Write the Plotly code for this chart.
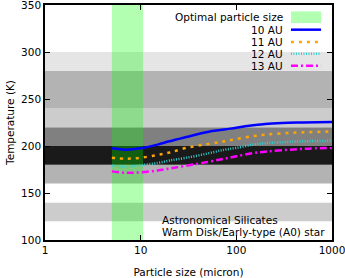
import plotly.graph_objects as go
import math

sizes = [5, 7, 10, 15, 20, 30, 50, 75, 100, 150, 200, 300, 500, 1000]
t10 = [197.5, 196, 197.5, 201.5, 205, 209.5, 215, 217.5, 219.5, 222, 223.5, 224.5, 225, 225.5]
t11 = [187.5, 186.5, 187.5, 190.5, 193, 198, 202, 205, 207.5, 210.5, 212, 213.5, 214.5, 215.5]
t12 = [179, 178, 179.5, 182, 184.5, 187.5, 192, 196, 198, 201.5, 203, 204, 205, 205.5]
t13 = [173, 171.5, 172, 174, 176, 179, 183, 186.5, 189, 192.5, 194, 195.5, 197, 198]

band_lo = [100, 120, 140, 160, 180, 200, 220, 240, 280]
band_hi = [120, 140, 160, 180, 200, 220, 240, 280, 300]
band_col = ["#ffffff", "#cccccc", "#ffffff", "#b3b3b3", "#1a1a1a", "#808080", "#cccccc", "#b3b3b3", "#e5e5e5"]

optimal_lo, optimal_hi = 5, 10.6

series = [
    ("10 AU", t10, dict(color="#0000ff", width=2.5, dash="solid")),
    ("11 AU", t11, dict(color="#ffa500", width=2.5, dash="3px,5px")),
    ("12 AU", t12, dict(color="#33cccc", width=2.5, dash="1px,1.5px")),
    ("13 AU", t13, dict(color="#ff00ff", width=2.5, dash="7px,3px,2px,3px")),
]

FONT = "DejaVu Sans"
FS = 10.5
fig = go.Figure()
shapes = []
for lo, hi, c in zip(band_lo, band_hi, band_col):
    shapes.append(dict(type="rect", xref="paper", yref="y", x0=0, x1=1, y0=lo, y1=hi,
                       fillcolor=c, line=dict(width=0), layer="below"))
shapes.append(dict(type="rect", xref="x", yref="paper", x0=optimal_lo, x1=optimal_hi, y0=0, y1=1,
                   fillcolor="rgba(0,255,0,0.3)", line=dict(width=0), layer="below"))

for name, ys, ln in series:
    fig.add_trace(go.Scatter(x=sizes, y=ys, mode="lines", name=name, line=ln,
                             line_shape="spline", showlegend=False, hoverinfo="skip"))

# custom legend (right-aligned text, sample on the right)
leg_names = ["Optimal particle size"] + [s[0] for s in series]
annotations = []
row_y = [0.948, 0.895, 0.843, 0.793, 0.741]
for i, nm in enumerate(leg_names):
    yy = row_y[i]
    annotations.append(dict(xref="paper", yref="paper", x=0.836, y=yy, text=nm, showarrow=False,
                            xanchor="right", yanchor="middle",
                            font=dict(family=FONT, size=FS, color="black")))
    if i == 0:
        shapes.append(dict(type="rect", xref="paper", yref="paper", x0=0.857, x1=0.962,
                           y0=yy - 0.025, y1=yy + 0.025, fillcolor="rgba(0,255,0,0.3)",
                           line=dict(width=0)))
    else:
        ln = series[i - 1][2]
        shapes.append(dict(type="line", xref="paper", yref="paper", x0=0.857, x1=0.962,
                           y0=yy, y1=yy, line=dict(color=ln["color"], width=ln["width"], dash=ln["dash"])))

label_x = math.log10(16.1)  # annotation x on log axis is given in log units
annotations.append(dict(xref="x", yref="y", x=label_x, y=121.5, xanchor="left", yanchor="middle",
                        text="Astronomical Silicates", showarrow=False,
                        font=dict(family=FONT, size=FS, color="black")))
annotations.append(dict(xref="x", yref="y", x=label_x, y=109, xanchor="left", yanchor="middle",
                        text="Warm Disk/Early-type (A0) star", showarrow=False,
                        font=dict(family=FONT, size=FS, color="black")))

fig.update_layout(
    width=345, height=278,
    margin=dict(l=45, r=13, t=5, b=38, autoexpand=False),
    paper_bgcolor="white", plot_bgcolor="white",
    shapes=shapes, annotations=annotations,
    font=dict(family=FONT, size=FS, color="black"),
    showlegend=False,
)
fig.update_xaxes(type="log", range=[0, 3], tickvals=[1, 10, 100, 1000], ticktext=["1", "10", "100", "1000"],
                 ticks="inside", ticklen=5, tickcolor="black", showgrid=False, zeroline=False,
                 showline=True, linecolor="black", linewidth=1.5, mirror="allticks", automargin=False,
                 ticklabeloverflow="allow",
                 title=dict(text="Particle size (micron)", standoff=14, font=dict(size=FS)))
fig.update_yaxes(range=[100, 350], tickvals=[100, 150, 200, 250, 300, 350],
                 ticks="inside", ticklen=5, tickcolor="black", showgrid=False, zeroline=False,
                 showline=True, linecolor="black", linewidth=1.5, mirror="allticks", automargin=False,
                 ticklabeloverflow="allow",
                 title=dict(text="Temperature (K)", standoff=4, font=dict(size=FS)))
fig.write_html("out.html", config={"displayModeBar": False},
               post_script="document.body.style.margin='0';document.body.style.padding='0';")
